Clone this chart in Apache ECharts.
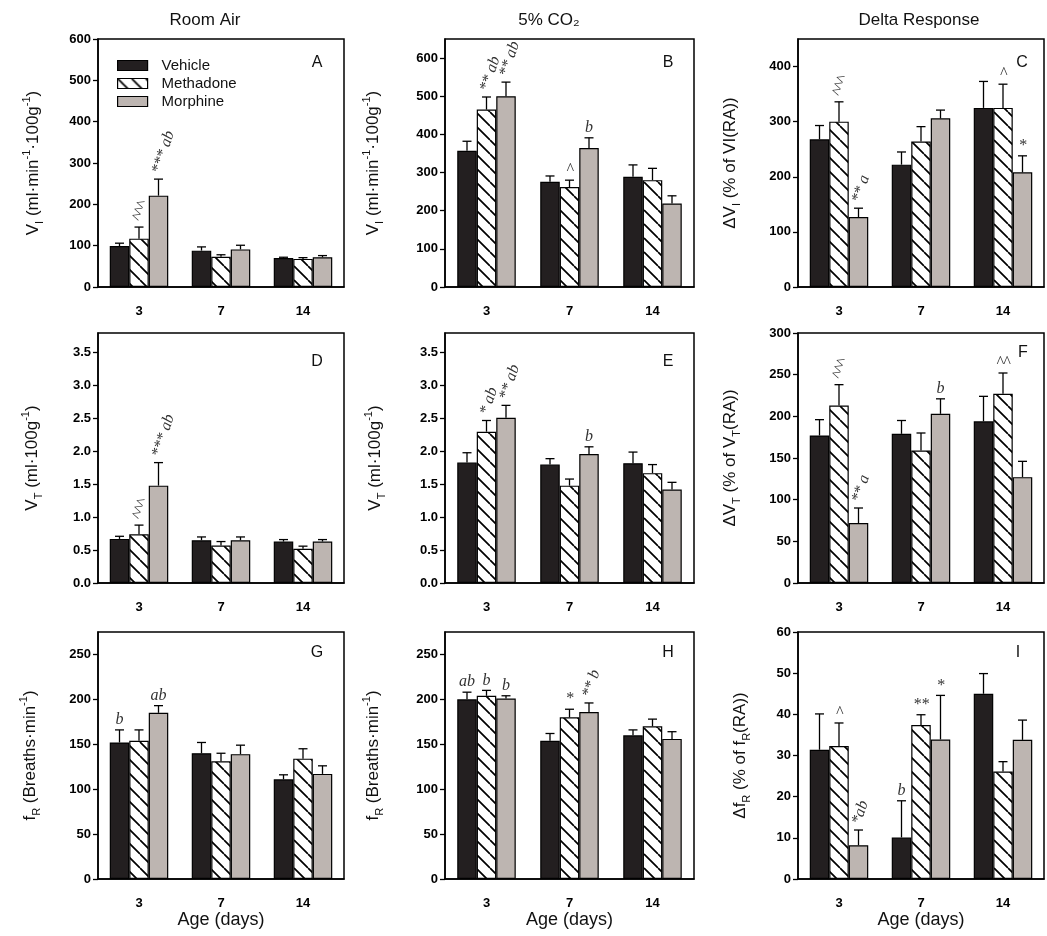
<!DOCTYPE html>
<html>
<head>
<meta charset="utf-8">
<script src="https://cdn.jsdelivr.net/npm/echarts@6/dist/echarts.min.js"></script>
<style>
  html, body { margin: 0; background: #fff; }
  #chart { width: 1047px; height: 936px; }
</style>
</head>
<body>
<div id="chart"></div>
<script>
const categories = ['3', '7', '14'];
const groups = ['Vehicle', 'Methadone', 'Morphine'];
const columnTitles = ['Room Air', '5% CO₂', 'Delta Response'];
const panelLetters = ['A', 'B', 'C', 'D', 'E', 'F', 'G', 'H', 'I'];

// rows of each mean/sem table: Vehicle, Methadone, Morphine
const meanA = [[99, 88, 70], [117, 73, 68], [221, 91, 72]];
const semA = [[7, 9, 2], [28, 5, 3], [40, 10, 4]];
const meanB = [[357, 276, 289], [465, 262, 280], [500, 364, 219]];
const semB = [[25, 15, 31], [33, 18, 31], [37, 27, 20]];
const meanC = [[268, 222, 325], [300, 264, 325], [127, 306, 208]];
const semC = [[25, 23, 48], [36, 27, 43], [16, 15, 30]];
const meanD = [[0.67, 0.65, 0.63], [0.74, 0.57, 0.52], [1.48, 0.65, 0.63]];
const semD = [[0.04, 0.05, 0.03], [0.14, 0.06, 0.04], [0.35, 0.05, 0.03]];
const meanE = [[1.83, 1.80, 1.82], [2.30, 1.48, 1.67], [2.51, 1.96, 1.42]];
const semE = [[0.15, 0.09, 0.17], [0.17, 0.10, 0.13], [0.19, 0.11, 0.11]];
const meanF = [[177, 179, 194], [213, 159, 227], [72, 203, 127]];
const semF = [[19, 16, 30], [25, 21, 25], [18, 18, 19]];
const meanG = [[152, 140, 111], [154, 131, 134], [185, 139, 117]];
const semG = [[14, 12, 5], [12, 9, 11], [8, 10, 9]];
const meanH = [[200, 154, 160], [204, 180, 170], [201, 186, 156]];
const semH = [[8, 8, 6], [6, 9, 8], [3, 10, 8]];
const meanI = [[31.4, 10.1, 45.0], [32.3, 37.4, 26.1], [8.2, 33.9, 33.8]];
const semI = [[8.7, 8.9, 4.9], [5.6, 2.5, 2.4], [3.7, 10.7, 4.8]];

// significance marks: [category, group, text, rotated]
const notesA = [[0, 1, '^^^', 1], [0, 2, '*** ab', 1]];
const notesB = [[0, 1, '** ab', 1], [0, 2, '** ab', 1], [1, 1, '^', 0], [1, 2, 'b', 0]];
const notesC = [[0, 1, '^^^', 1], [0, 2, '** a', 1], [2, 1, '^', 0], [2, 2, '*', 0]];
const notesD = [[0, 1, '^^^', 1], [0, 2, '*** ab', 1]];
const notesE = [[0, 1, '* ab', 1], [0, 2, '** ab', 1], [1, 2, 'b', 0]];
const notesF = [[0, 1, '^^^', 1], [0, 2, '** a', 1], [1, 2, 'b', 0], [2, 1, '^^', 0]];
const notesG = [[0, 0, 'b', 0], [0, 2, 'ab', 0]];
const notesH = [[0, 0, 'ab', 0], [0, 1, 'b', 0], [0, 2, 'b', 0], [1, 1, '*', 0], [1, 2, '** b', 1]];
const notesI = [[0, 1, '^', 0], [0, 2, '*ab', 1], [1, 0, 'b', 0], [1, 1, '**', 0], [1, 2, '*', 0]];

const yMax = [600, 650, 450, 3.8, 3.8, 300, 275, 275, 60];
const yStep = [100, 100, 100, 0.5, 0.5, 50, 50, 50, 10];
const yNames = [
  'V{sub|I} (ml·min{sup|-1}·100g{sup|-1})',
  'V{sub|I} (ml·min{sup|-1}·100g{sup|-1})',
  'ΔV{sub|I} (% of VI(RA))',
  'V{sub|T} (ml·100g{sup|-1})',
  'V{sub|T} (ml·100g{sup|-1})',
  'ΔV{sub|T} (% of V{sub|T}(RA))',
  'f{sub|R} (Breaths·min{sup|-1})',
  'f{sub|R} (Breaths·min{sup|-1})',
  'Δf{sub|R} (% of f{sub|R}(RA))'
];

const panels = [
  [meanA, semA, notesA], [meanB, semB, notesB], [meanC, semC, notesC],
  [meanD, semD, notesD], [meanE, semE, notesE], [meanF, semF, notesF],
  [meanG, semG, notesG], [meanH, semH, notesH], [meanI, semI, notesI]
];

// layout
const colLeft = [98, 445, 798];
const colWidth = [246, 249, 246];
const rowTop = [39, 333, 632];
const rowHeight = [248, 250, 247];
const nameGaps = [53, 60, 56, 54, 58, 56, 56, 60, 46];
const titleX = [205, 549, 919];
const letterPos = [[317, 63], [668, 63], [1022, 63], [317, 362], [668, 362], [1023, 353], [317, 653], [668, 653], [1018, 653]];

const BW = 19.5, CAP = 4.5, ROT = 72 * Math.PI / 180;
const FONT = 'Liberation Sans';

function hatchPattern() {
  const s = 14;
  const c = document.createElement('canvas');
  c.width = s; c.height = s;
  const g = c.getContext('2d');
  g.fillStyle = '#fff';
  g.fillRect(0, 0, s, s);
  g.strokeStyle = '#000';
  g.lineWidth = 1.7;
  g.beginPath();
  [-s, 0, s].forEach(k => { g.moveTo(k, 0); g.lineTo(k + s, s); });
  g.stroke();
  return c;
}
const fills = ['#231f20', { image: hatchPattern(), repeat: 'repeat' }, '#bdb5b1'];

function errorBar(params, api) {
  const p0 = api.coord([api.value(0), api.value(1)]);
  const p1 = api.coord([api.value(0), api.value(2)]);
  const x = p0[0] + (api.value(3) - 1) * BW;
  const st = { stroke: '#000', lineWidth: 1.3 };
  return {
    type: 'group',
    children: [
      { type: 'line', shape: { x1: x, y1: p0[1], x2: x, y2: p1[1] }, style: st },
      { type: 'line', shape: { x1: x - CAP, y1: p1[1], x2: x + CAP, y2: p1[1] }, style: st }
    ]
  };
}

function noteMaker(notes) {
  return function (params, api) {
    const n = notes[params.dataIndex];
    const p = api.coord([api.value(0), api.value(1)]);
    const x = p[0] + (api.value(2) - 1) * BW;
    const style = { text: n[2], fontFamily: 'Liberation Serif', fontStyle: 'italic', fontSize: 16, fill: '#333' };
    if (n[3]) {
      return { type: 'text', x: x - 2, y: p[1] - 6, rotation: ROT,
        style: Object.assign(style, { align: 'left', verticalAlign: 'middle' }) };
    }
    return { type: 'text', x: x, y: p[1] - 2,
      style: Object.assign(style, { align: 'center', verticalAlign: 'bottom' }) };
  };
}

const grids = [], xAxes = [], yAxes = [], series = [];
panels.forEach(([mean, sem, notes], i) => {
  const row = Math.floor(i / 3), col = i % 3;
  grids.push({
    left: colLeft[col], top: rowTop[row], width: colWidth[col], height: rowHeight[row],
    show: true, borderColor: '#000', borderWidth: 1.5
  });
  xAxes.push({
    gridIndex: i, type: 'category', data: categories,
    axisLine: { lineStyle: { color: '#000', width: 1.5 } },
    axisTick: { alignWithLabel: true, length: 5, lineStyle: { color: '#000', width: 1.3 } },
    axisLabel: { color: '#000', fontWeight: 'bold', fontSize: 13, fontFamily: FONT, margin: 18 },
    name: row === 2 ? 'Age (days)' : '', nameLocation: 'middle', nameGap: 32,
    nameTextStyle: { fontSize: 18, color: '#111', fontFamily: FONT }
  });
  const ratio = yMax[i] / yStep[i];
  yAxes.push({
    gridIndex: i, type: 'value', min: 0, max: yMax[i], interval: yStep[i],
    axisLine: { show: true, lineStyle: { color: '#000', width: 1.5 } },
    axisTick: { show: true, length: 5, lineStyle: { color: '#000', width: 1.3 } },
    splitLine: { show: false },
    axisLabel: {
      color: '#000', fontWeight: 'bold', fontSize: 13, fontFamily: FONT, margin: 7,
      showMaxLabel: Math.abs(ratio - Math.round(ratio)) < 1e-6,
      formatter: v => (yStep[i] < 1 ? v.toFixed(1) : String(v))
    },
    name: yNames[i], nameLocation: 'middle', nameGap: nameGaps[i],
    nameTextStyle: {
      fontSize: 17, color: '#111', fontFamily: FONT, lineHeight: 24,
      rich: {
        sub: { fontSize: 11, lineHeight: 11, verticalAlign: 'bottom', fontFamily: FONT, color: '#111' },
        sup: { fontSize: 11, lineHeight: 11, verticalAlign: 'top', fontFamily: FONT, color: '#111' }
      }
    }
  });
  groups.forEach((g, k) => {
    series.push({
      type: 'bar', name: g, xAxisIndex: i, yAxisIndex: i, data: mean[k],
      barWidth: BW, barGap: '0%', silent: true,
      itemStyle: { color: fills[k], borderColor: '#000', borderWidth: 1.2 }
    });
  });
  const errData = [];
  mean.forEach((m, k) => m.forEach((v, c) => errData.push([c, v, v + sem[k][c], k])));
  series.push({
    type: 'custom', name: 'err' + i, xAxisIndex: i, yAxisIndex: i, silent: true,
    data: errData, encode: { x: 0, y: 2 }, renderItem: errorBar, z: 3
  });
  series.push({
    type: 'custom', name: 'note' + i, xAxisIndex: i, yAxisIndex: i, silent: true,
    data: notes.map(n => [n[0], mean[n[1]][n[0]] + sem[n[1]][n[0]], n[1]]),
    encode: { x: 0, y: 1 }, renderItem: noteMaker(notes), z: 4
  });
});

const graphics = [];
columnTitles.forEach((t, j) => graphics.push({
  type: 'text', x: titleX[j], y: 20,
  style: { text: t, fontSize: 17, fontFamily: FONT, fill: '#111', align: 'center', verticalAlign: 'middle' }
}));
panelLetters.forEach((l, i) => graphics.push({
  type: 'text', x: letterPos[i][0], y: letterPos[i][1],
  style: { text: l, fontSize: 16, fontFamily: FONT, fill: '#111', align: 'center', verticalAlign: 'middle' }
}));

const chart = echarts.init(document.getElementById('chart'));
chart.setOption({
  animation: false,
  backgroundColor: '#fff',
  textStyle: { fontFamily: FONT },
  legend: {
    data: groups, orient: 'vertical', left: 112, top: 53,
    itemWidth: 30, itemHeight: 10, itemGap: 3, icon: 'rect', selectedMode: false,
    itemStyle: { borderColor: '#000', borderWidth: 1.2 },
    textStyle: { fontSize: 15, color: '#111', fontFamily: FONT, padding: [0, 0, 0, 9] }
  },
  grid: grids,
  xAxis: xAxes,
  yAxis: yAxes,
  graphic: graphics,
  series: series
});
</script>
</body>
</html>
